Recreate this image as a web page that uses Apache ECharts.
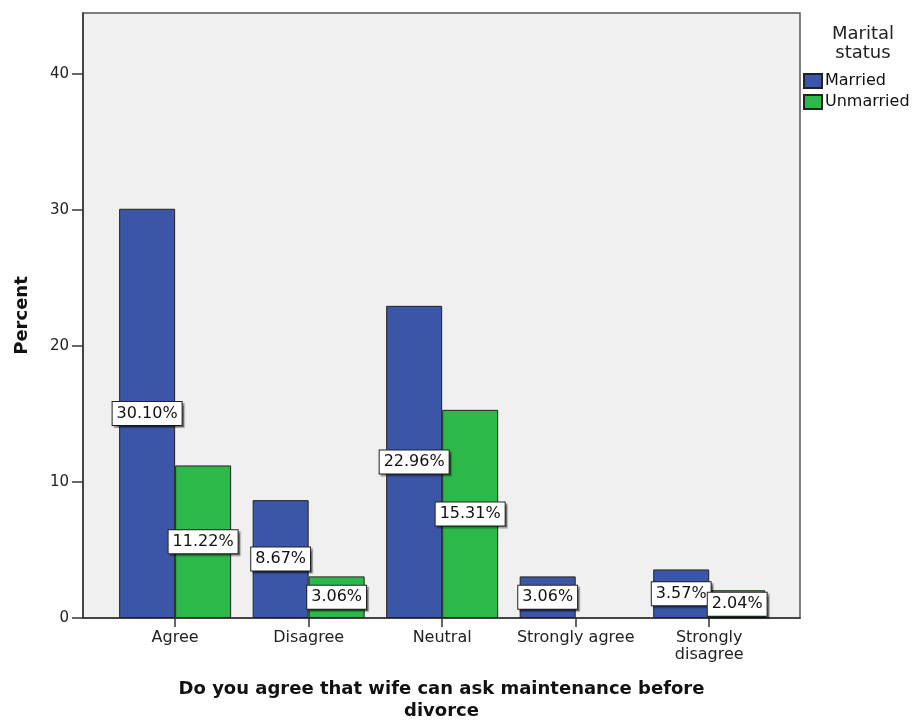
<!DOCTYPE html>
<html>
<head>
<meta charset="utf-8">
<script src="https://cdn.jsdelivr.net/npm/echarts@6/dist/echarts.min.js"></script>
<style>
	html, body { margin: 0; padding: 0; background: #fff; }
	#main { width: 913px; height: 720px; }
</style>
</head>
<body>
<div id="main"></div>
<script>
var categories = ["Agree", "Disagree", "Neutral", "Strongly agree", "Strongly\ndisagree"];
var married = [30.10, 8.67, 22.96, 3.06, 3.57];
var unmarried = [11.22, 3.06, 15.31, null, 2.04];

var FONT = "DejaVu Sans";
var myChart = echarts.init(document.getElementById("main"));

// bars sit on a value axis so the outer padding can match the picture
var toPoints = function(values) {
	var out = [];
	for (var i = 0; i < values.length; ++i)
		if (values[i] != null)
			out.push([i, values[i]]);
	return out;
};

var labelStyle = {
	show: true,
	position: "inside",
	formatter: function(p) { return p.value[1].toFixed(2) + "%"; },
	backgroundColor: "#fff",
	borderColor: "#222",
	borderWidth: 1,
	padding: [4, 4, 3, 4],
	color: "#111",
	fontSize: 16,
	fontFamily: FONT,
	shadowColor: "rgba(0,0,0,0.35)",
	shadowBlur: 1,
	shadowOffsetX: 2,
	shadowOffsetY: 2
};

var idx = [];
for (var i = 0; i < categories.length; ++i) idx.push(i);

var option = {
	backgroundColor: "#fff",
	animation: false,
	title: {
		text: "Marital\nstatus",
		left: 858,
		top: 20,
		textAlign: "center",
		textStyle: {
			fontFamily: FONT,
			fontWeight: "normal",
			fontSize: 18,
			lineHeight: 19,
			color: "#222"
		}
	},
	legend: {
		data: ["Married", "Unmarried"],
		orient: "vertical",
		left: 803,
		top: 73,
		itemWidth: 18,
		itemHeight: 14,
		itemGap: 5,
		icon: "rect",
		padding: 0,
		textStyle: { fontFamily: FONT, fontSize: 16, color: "#111", padding: [0, 0, 0, -2] }
	},
	grid: {
		left: 83,
		top: 13,
		right: 113,
		bottom: 102,
		outerBoundsMode: "none",
		show: true,
		backgroundColor: "#F0F0F0",
		borderColor: "#555",
		borderWidth: 1.5
	},
	xAxis: {
		type: "value",
		min: -0.69,
		max: 4.68,
		name: "Do you agree that wife can ask maintenance before\ndivorce",
		nameLocation: "middle",
		nameGap: 60,
		nameTextStyle: {
			fontFamily: FONT,
			fontWeight: "bold",
			fontSize: 18,
			lineHeight: 22,
			color: "#111"
		},
		splitLine: { show: false },
		axisLine: { show: true, onZero: false, lineStyle: { color: "#333", width: 1.5 } },
		axisTick: {
			show: true,
			length: 9,
			customValues: idx,
			lineStyle: { color: "#333", width: 1.5 }
		},
		axisLabel: {
			customValues: idx,
			formatter: function(v) { return categories[Math.round(v)]; },
			fontFamily: FONT,
			fontSize: 16,
			lineHeight: 17,
			color: "#222",
			margin: 11
		}
	},
	yAxis: {
		type: "value",
		min: 0,
		max: 44.5,
		interval: 10,
		name: "Percent",
		nameLocation: "middle",
		nameGap: 52,
		nameTextStyle: {
			fontFamily: FONT,
			fontWeight: "bold",
			fontSize: 18,
			color: "#111"
		},
		splitLine: { show: false },
		axisLine: { show: true, onZero: false, lineStyle: { color: "#333", width: 1.5 } },
		axisTick: { show: true, length: 11, lineStyle: { color: "#333", width: 1.5 } },
		axisLabel: {
			showMaxLabel: false,
			fontFamily: FONT,
			fontSize: 15,
			color: "#222",
			margin: 14
		}
	},
	series: [
		{
			name: "Married",
			type: "bar",
			data: toPoints(married),
			barWidth: 56,
			barGap: "0%",
			itemStyle: { color: "#3B56A6", borderColor: "#222", borderWidth: 1 },
			label: labelStyle
		},
		{
			name: "Unmarried",
			type: "bar",
			data: toPoints(unmarried),
			barWidth: 56,
			barGap: "0%",
			itemStyle: { color: "#2DB84A", borderColor: "#222", borderWidth: 1 },
			label: labelStyle
		}
	]
};

myChart.setOption(option);
</script>
</body>
</html>
